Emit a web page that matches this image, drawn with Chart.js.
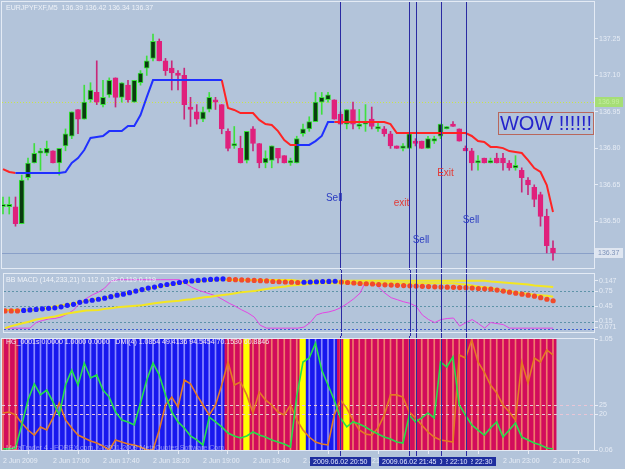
<!DOCTYPE html>
<html>
<head>
<meta charset="utf-8">
<title>EURJPYFXF M5</title>
<script src="https://cdn.jsdelivr.net/npm/chart.js@4.4.1/dist/chart.umd.min.js"></script>
<style>
  html, body { margin:0; padding:0; background:#b3c4da; }
  #wrap { position:relative; width:625px; height:469px; overflow:hidden; background:#b3c4da; }
  #wrap canvas { position:absolute; left:0; display:block; }
</style>
</head>
<body>
<div id="wrap">
  <canvas id="cPrice" width="625" height="270" style="top:0;width:625px;height:270px"></canvas>
  <canvas id="cMacd" width="625" height="66" style="top:270px;width:625px;height:66px"></canvas>
  <canvas id="cDmi" width="625" height="133" style="top:336px;width:625px;height:133px"></canvas>
</div>
<script>
const N = null;
const symbol = 'EURJPYFXF', period = 'M5';

// ---- price bars (M5, 16:20 .. 23:40) ----
const opens = [
 136.56,136.56,136.56,136.49,136.68,136.74,136.78,136.78,136.79,136.74,
 136.81,136.85,136.96,136.92,137.00,137.03,136.98,137.02,137.09,137.01,
 137.06,136.99,137.07,137.13,137.17,137.24,137.16,137.13,137.11,137.10,
 136.97,136.95,136.92,136.96,137.00,136.98,136.87,136.81,136.80,136.75,
 136.88,136.82,136.74,136.75,136.80,136.77,136.74,136.74,136.86,136.88,
 136.91,136.99,137.00,137.00,136.94,136.90,136.96,136.89,136.90,136.92,
 136.88,136.88,136.86,136.81,136.80,136.80,136.83,136.83,136.80,136.83,
 136.85,136.88,136.90,136.88,136.80,136.79,136.74,136.76,136.74,136.76,
 136.76,136.74,136.72,136.71,136.67,136.64,136.61,136.52,136.39];
const highs = [
 136.60,136.60,136.60,136.69,136.76,136.82,136.80,136.83,136.79,136.80,
 136.88,136.95,136.96,137.06,137.07,137.16,137.08,137.09,137.09,137.07,
 137.08,137.08,137.12,137.18,137.27,137.25,137.17,137.16,137.12,137.13,
 137.01,136.98,136.97,137.03,137.01,136.98,136.88,136.89,136.85,136.87,
 136.89,136.82,136.79,136.81,136.80,136.77,136.76,136.85,136.90,136.93,
 137.03,137.03,137.03,137.00,136.95,136.96,136.99,136.96,136.98,136.97,
 136.91,136.89,136.87,136.81,136.82,136.86,136.84,136.83,136.85,136.85,
 136.90,136.89,136.91,136.88,136.81,136.80,136.77,136.76,136.76,136.78,
 136.78,136.75,136.77,136.72,136.68,136.65,136.62,136.55,136.42];
const lows = [
 136.53,136.53,136.48,136.49,136.67,136.74,136.71,136.77,136.74,136.69,
 136.79,136.84,136.86,136.92,136.99,136.98,136.97,137.01,136.97,136.99,
 136.99,136.99,137.06,137.10,137.16,137.16,137.10,137.04,137.04,136.92,
 136.89,136.90,136.91,136.95,136.96,136.86,136.79,136.80,136.74,136.74,
 136.79,136.72,136.72,136.72,136.74,136.74,136.73,136.74,136.85,136.87,
 136.91,136.94,136.99,136.92,136.90,136.88,136.88,136.88,136.87,136.88,
 136.87,136.85,136.80,136.80,136.79,136.80,136.81,136.80,136.80,136.82,
 136.84,136.88,136.89,136.83,136.79,136.71,136.71,136.74,136.74,136.74,
 136.71,136.71,136.71,136.62,136.61,136.56,136.48,136.37,136.34];
const closes = [
 136.57,136.57,136.49,136.67,136.74,136.78,136.79,136.80,136.74,136.80,
 136.86,136.95,136.92,136.99,137.04,136.99,137.01,137.08,137.01,137.07,
 137.00,137.08,137.11,137.16,137.24,137.16,137.12,137.11,137.10,136.98,
 136.96,136.92,136.95,137.01,136.99,136.88,136.80,136.82,136.74,136.87,
 136.82,136.74,136.76,136.81,136.76,136.74,136.75,136.84,136.88,136.91,
 136.99,137.01,137.02,136.92,136.90,136.96,136.90,136.90,136.91,136.89,
 136.89,136.86,136.81,136.80,136.81,136.86,136.82,136.80,136.84,136.84,
 136.90,136.89,136.89,136.83,136.79,136.74,136.75,136.74,136.75,136.74,
 136.74,136.72,136.73,136.68,136.65,136.59,136.52,136.40,136.37];

// ---- trailing stop line (blue = up, red = down) ----
const trailUp = [
 N,N,136.699,136.699,136.699,136.699,136.699,136.699,136.699,136.699,
 136.703,136.740,136.760,136.793,136.843,136.847,136.851,136.871,136.871,136.871,
 136.892,136.892,136.937,137.011,137.081,137.081,137.081,137.081,137.081,137.081,
 137.081,137.081,137.081,137.081,137.081,137.081,N,N,N,N,
 N,N,N,N,N,N,N,136.814,136.814,136.814,
 136.830,136.851,136.908,136.908,N,N,N,N,N,N,
 N,N,N,N,N,N,N,N,N,N,
 N,N,N,N,N,N,N,N,N,N,
 N,N,N,N,N,N,N,N,N];
const trailDn = [
 136.715,136.703,136.699,N,N,N,N,N,N,N,
 N,N,N,N,N,N,N,N,N,N,
 N,N,N,N,N,N,N,N,N,N,
 N,N,N,N,N,137.081,136.966,136.958,136.945,136.945,
 136.945,136.917,136.900,136.896,136.871,136.834,136.814,136.814,N,N,
 N,N,N,136.908,136.908,136.908,136.908,136.908,136.908,136.908,
 136.908,136.908,136.900,136.863,136.863,136.863,136.863,136.863,136.863,136.863,
 136.863,136.863,136.863,136.863,136.863,136.851,136.830,136.826,136.806,136.806,
 136.801,136.789,136.785,136.781,136.752,136.719,136.703,136.649,136.538];

// ---- BB MACD pane ----
const bbMacd = [
 0.36,0.36,0.36,0.37,0.38,0.39,0.40,0.41,0.42,0.44,
 0.47,0.49,0.53,0.55,0.57,0.59,0.61,0.64,0.67,0.69,
 0.72,0.75,0.78,0.81,0.83,0.86,0.88,0.90,0.92,0.94,
 0.95,0.96,0.97,0.98,0.985,0.99,0.98,0.975,0.97,0.965,
 0.96,0.955,0.95,0.94,0.935,0.93,0.925,0.92,0.925,0.93,
 0.935,0.94,0.942,0.945,0.93,0.92,0.91,0.90,0.895,0.89,
 0.88,0.875,0.87,0.865,0.86,0.855,0.85,0.845,0.84,0.835,
 0.83,0.828,0.825,0.82,0.818,0.81,0.80,0.795,0.79,0.77,
 0.75,0.73,0.71,0.69,0.67,0.65,0.62,0.59,0.56];
const bandUpper = [
 0.38,0.38,0.38,0.38,0.38,0.38,0.40,0.42,0.45,0.47,
 0.49,0.51,0.53,0.56,0.58,0.60,0.62,0.65,0.68,0.69,
 0.72,0.75,0.77,0.80,0.82,0.84,0.86,0.88,0.90,0.92,
 0.93,0.94,0.95,0.96,0.97,0.97,0.97,0.97,0.97,0.97,
 0.97,0.97,0.97,0.97,0.97,0.97,0.97,0.955,0.955,0.955,
 0.955,0.955,0.955,0.955,0.955,0.955,0.955,0.955,0.955,0.955,
 0.955,0.955,0.955,0.955,0.955,0.955,0.955,0.955,0.955,0.955,
 0.955,0.955,0.955,0.955,0.955,0.955,0.955,0.955,0.94,0.93,
 0.92,0.91,0.90,0.89,0.88,0.86,0.85,0.84,0.83];
const bandLower = [
 0.02,0.06,0.09,0.12,0.15,0.19,0.21,0.23,0.25,0.28,
 0.31,0.33,0.35,0.37,0.375,0.38,0.40,0.41,0.43,0.44,
 0.45,0.46,0.47,0.49,0.51,0.525,0.54,0.55,0.56,0.58,
 0.59,0.61,0.63,0.64,0.66,0.675,0.69,0.71,0.73,0.74,
 0.75,0.77,0.79,0.81,0.825,0.84,0.86,0.87,0.88,0.89,
 0.90,0.905,0.905,0.905,0.905,0.905,0.905,0.905,0.905,0.905,
 0.905,0.905,0.905,0.905,0.905,0.905,0.905,0.905,0.905,0.905,
 0.905,0.905,0.905,0.89,0.88,0.86,0.84,0.825,0.81,0.79,
 0.77,0.75,0.73,0.71,0.70,0.68,0.67,0.66,0.64];
const stochLine = [
 0.02,0.02,0.02,0.02,0.02,0.13,0.17,0.20,0.21,0.24,
 0.30,0.375,0.51,0.60,0.675,0.73,0.81,0.94,0.975,0.975,
 0.975,0.975,0.975,0.975,0.975,0.975,0.975,0.975,0.975,0.90,
 0.825,0.77,0.73,0.69,0.65,0.58,0.51,0.45,0.38,0.32,
 0.24,0.075,0.02,0.02,0.02,0.02,0.02,0.02,0.04,0.13,
 0.28,0.32,0.34,0.375,0.43,0.51,0.60,0.71,0.96,0.94,
 0.825,0.71,0.62,0.58,0.54,0.51,0.45,0.28,0.19,0.13,
 0.19,0.21,0.22,0.06,0.13,0.19,0.11,0.02,0.13,0.11,
 0.09,0.02,0.02,0.02,0.02,0.02,0.02,0.02,0.02];

// ---- HG / DMI pane ----
const hgState = ('RRR' + 'BBBBBBBBBBBBBBBBBBBBBBBBBBBBBBBBB' + 'RRR' + 'Y' + 'RRRRRRRR' + 'Y' +
                 'BBBBB' + 'R' + 'Y' + 'RRRRRRRRRRRRRRRRRRRRRRRRRRRRRRRRR').split('');
const hgLevel = 1;
const dmiPlus = [
 0.6,0.6,1.1,13.9,27.8,36.7,30.6,33.3,26.7,19.4,
 36.1,44.4,36.1,48.3,40.0,41.7,33.3,29.4,21.1,16.7,
 15.6,13.9,26.1,38.9,48.3,41.7,30.6,21.1,15.6,12.2,
 7.8,5.6,2.8,18.3,15.6,12.8,9.4,7.8,6.7,7.8,
 10.0,8.3,7.2,5.6,4.4,3.3,1.7,30.0,48.9,51.1,
 59.4,44.4,36.1,27.8,17.8,12.8,15.6,14.4,12.8,10.6,
 8.9,7.2,6.1,4.4,3.9,19.4,15.6,17.8,20.6,17.8,
 48.9,46.1,51.7,25.0,19.4,13.9,11.1,8.3,12.2,15.6,
 7.2,11.1,15.0,7.2,5.6,3.9,2.8,1.1,0.6];
const dmiMinus = [
 20.6,21.1,19.4,15.0,11.1,8.3,12.8,11.1,17.8,26.1,
 16.7,12.2,8.3,6.7,5.0,3.9,2.2,0.0,5.6,4.4,
 3.3,2.8,1.7,0.0,0.0,11.1,25.0,29.4,23.9,38.9,
 36.7,30.6,25.0,19.4,25.0,36.1,48.9,36.1,37.8,30.6,
 20.6,32.2,27.8,25.0,21.1,19.4,25.0,16.7,11.1,7.2,
 4.4,3.3,2.8,19.4,27.8,23.3,16.7,11.1,8.9,8.3,
 12.2,19.4,30.6,30.6,29.4,21.1,17.8,13.9,10.0,7.2,
 5.6,5.0,4.4,52.8,51.1,61.1,48.9,43.3,36.1,31.7,
 25.0,21.1,16.7,48.9,37.2,51.1,48.9,55.6,52.8];

// ---- axes, levels, annotations ----
const priceTicks = [136.50, 136.65, 136.80, 136.95, 137.10, 137.25];
const macdTickVals = [0.956, 0.75, 0.45, 0.15, 0.037];
const macdTickLabels = ['0.147', '0.75', '0.45', '0.15', '0.071'];
const macdLevels = [0.75, 0.45, 0.15, 0.0];
const dmiTickVals = [61.67, 25, 20, 0];
const dmiTickLabels = ['1.05', '25', '20', '0.06'];
const dmiLevels = [25, 20];
const timeTickBars = [0, 8, 16, 24, 32, 40, 48, 56, 64, 72, 80, 88];
const timeTickLabels = ['2 Jun 2009','2 Jun 17:00','2 Jun 17:40','2 Jun 18:20','2 Jun 19:00','2 Jun 19:40',
                        '2 Jun 20:20','2 Jun 21:00','2 Jun 21:40','2 Jun 22:20','2 Jun 23:00','2 Jun 23:40'];
const signalBars = [54, 65, 66, 70, 74];
const signalLabels = ['2009.06.02 20:50','2009.06.02 21:45','2009.06.02 21:50','2009.06.02 22:10','2009.06.02 22:30'];
const askPrice = 136.99;
const notes = [
  { text:'Sell', bar:53.0,  price:136.596, color:'#2b3cc2' },
  { text:'exit', bar:63.76, price:136.575, color:'#e23a36' },
  { text:'Exit', bar:70.8,  price:136.699, color:'#e23a36' },
  { text:'Sell', bar:66.88, price:136.423, color:'#2b3cc2' },
  { text:'Sell', bar:74.88, price:136.505, color:'#2b3cc2' }
];
const wow = { text:'WOW !!!!!!', bar:79.5, price:136.876 };
const macdHeader = 'BB MACD (144,233,21) 0.112 0.132 0.119 0.119';
const dmiHeader = 'HG_0001s 0.0000 1.0000 0.0000   DMI(4) 1.0854 49.4136 94.5454 70.1530 60.8846';
const copyright = 'MetaTrader 4 - FOREX.com, \u00A9 2001-2009 MetaQuotes Software Corp.';

// ---- styling helpers ----
const FONT = 'Liberation Sans';
const AXIS_COL = '#e6ecf5';
const X_MIN = -0.16, X_MAX = 94.56;
Chart.defaults.font.family = FONT;
Chart.defaults.animation = false;

const xi = opens.map((_, i) => i);
const bull = closes.map((c, i) => c >= opens[i]);
const pts = arr => xi.map(i => ({ x:i, y:arr[i] }));

function xAxisHidden() { return { type:'linear', min:X_MIN, max:X_MAX, offset:false, display:false }; }
function rightAxis(min, max, vals, labels) {
  return {
    position:'right', min, max,
    afterBuildTicks: s => { s.ticks = vals.map(v => ({ value:v })); },
    afterFit: s => { s.width = 31; s.paddingTop = 0; s.paddingBottom = 0; },
    ticks: { autoSkip:false, padding:1, color:AXIS_COL, font:{ family:FONT, size:7 },
             callback: v => labels[vals.indexOf(v)] },
    grid: { drawOnChartArea:false, drawTicks:true, tickLength:4, color:AXIS_COL },
    border: { display:true, color:AXIS_COL }
  };
}
function drawSignalLines(chart, top, bottom) {
  const { ctx, scales:{ x } } = chart;
  ctx.save(); ctx.strokeStyle = '#2a2aa2'; ctx.lineWidth = 1;
  signalBars.forEach(b => {
    const px = Math.round(x.getPixelForValue(b)) + 0.5;
    ctx.beginPath(); ctx.moveTo(px, top); ctx.lineTo(px, bottom); ctx.stroke();
  });
  ctx.restore();
}
function frame(chart) {
  const { ctx, chartArea:a } = chart;
  ctx.save(); ctx.strokeStyle = '#e4ebf5'; ctx.lineWidth = 1;
  ctx.strokeRect(a.left - 0.5, a.top - 0.5, a.right - a.left + 1, a.bottom - a.top + 1);
  ctx.restore();
}
function text(ctx, t, x, y, color, size, align) {
  ctx.save(); ctx.font = size + 'px "' + FONT + '"'; ctx.fillStyle = color;
  ctx.textAlign = align || 'left'; ctx.textBaseline = 'middle'; ctx.fillText(t, x, y); ctx.restore();
}
const commonOpts = (padding) => ({
  responsive:false, maintainAspectRatio:false, devicePixelRatio:1, animation:false,
  layout:{ padding }, events:[],
  plugins:{ legend:{ display:false }, tooltip:{ enabled:false } }
});

// ---- price pane ----
const pricePlugin = {
  id:'pricePane',
  beforeDatasetsDraw(chart) {
    const { ctx, chartArea:a, scales:{ y } } = chart;
    ctx.save();
    let py = Math.round(y.getPixelForValue(askPrice)) + 0.5;
    ctx.strokeStyle = '#c9e64a'; ctx.setLineDash([1, 2]);
    ctx.beginPath(); ctx.moveTo(a.left, py); ctx.lineTo(a.right, py); ctx.stroke();
    ctx.setLineDash([]);
    py = Math.round(y.getPixelForValue(closes[closes.length - 1])) + 0.5;
    ctx.strokeStyle = '#8aa0c8';
    ctx.beginPath(); ctx.moveTo(a.left, py); ctx.lineTo(a.right, py); ctx.stroke();
    ctx.restore();
  },
  afterDatasetsDraw(chart) {
    const { ctx, chartArea:a, scales:{ x, y } } = chart;
    drawSignalLines(chart, a.top, chart.height);
    notes.forEach(n => text(ctx, n.text, x.getPixelForValue(n.bar), y.getPixelForValue(n.price), n.color, 10, 'center'));
    ctx.save();
    ctx.font = '20px "' + FONT + '"'; ctx.textAlign = 'left'; ctx.textBaseline = 'alphabetic';
    const wx = x.getPixelForValue(wow.bar), wy = y.getPixelForValue(wow.price);
    const w = ctx.measureText(wow.text).width;
    ctx.fillStyle = '#2323cc'; ctx.fillText(wow.text, wx, wy);
    ctx.strokeStyle = '#b8675c'; ctx.lineWidth = 1;
    ctx.strokeRect(Math.round(wx) - 1.5, Math.round(wy) - 17.5, Math.round(w) + 3, 22);
    ctx.restore();
  },
  afterDraw(chart) {
    const { ctx, scales:{ y } } = chart;
    frame(chart);
    const L = opens.length - 1;
    text(ctx, symbol + ',' + period + '  ' + [opens[L], highs[L], lows[L], closes[L]].map(v => v.toFixed(2)).join(' '),
         6, 8, '#eef2f8', 7);
    let ry = Math.round(y.getPixelForValue(askPrice));
    ctx.fillStyle = '#a6de76'; ctx.fillRect(595, ry - 5, 28, 10);
    text(ctx, askPrice.toFixed(2), 598, ry, '#c4eea0', 7);
    ry = Math.round(y.getPixelForValue(closes[L]));
    ctx.fillStyle = '#dfe6f1'; ctx.fillRect(595, ry - 5, 28, 10);
    text(ctx, closes[L].toFixed(2), 598, ry, '#7d92b8', 7);
  }
};

new Chart(document.getElementById('cPrice'), {
  type:'bar',
  data:{ datasets:[
    { type:'line', label:'Trail up', data:pts(trailUp), borderColor:'#2030ff', borderWidth:2, pointRadius:0, order:0 },
    { type:'line', label:'Trail down', data:pts(trailDn), borderColor:'#ff2424', borderWidth:2, pointRadius:0, order:0 },
    { label:'Body', data:xi.map(i => ({ x:i, y:[opens[i], closes[i]] })),
      backgroundColor: bull.map(b => b ? '#0b3a10' : '#e0207c'),
      borderColor: bull.map(b => b ? '#36e236' : '#e0207c'),
      borderWidth:1, borderSkipped:false, barThickness:5, minBarLength:2, grouped:false, order:1 },
    { label:'Wick', data:xi.map(i => ({ x:i, y:[lows[i], highs[i]] })),
      backgroundColor: bull.map(b => b ? '#3ee03e' : '#c8287a'),
      barThickness:1, grouped:false, order:2 }
  ]},
  options: Object.assign(commonOpts({ top:2, bottom:2, left:2, right:0 }), {
    scales:{ x:xAxisHidden(), y:rightAxis(136.308, 137.402, priceTicks, priceTicks.map(v => v.toFixed(2))) }
  }),
  plugins:[pricePlugin]
});

// ---- BB MACD pane ----
const macdPlugin = {
  id:'macdPane',
  beforeDatasetsDraw(chart) {
    const { ctx, chartArea:a, scales:{ y } } = chart;
    ctx.save(); ctx.setLineDash([2, 2]); ctx.lineWidth = 1;
    macdLevels.forEach((lv, k) => {
      const py = Math.round(y.getPixelForValue(lv)) + 0.5;
      ctx.strokeStyle = k === macdLevels.length - 1 ? '#3f5fd0' : '#5e93a8';
      ctx.beginPath(); ctx.moveTo(a.left, py); ctx.lineTo(a.right, py); ctx.stroke();
    });
    ctx.restore();
  },
  afterDatasetsDraw(chart) { drawSignalLines(chart, 0, chart.height); },
  afterDraw(chart) {
    frame(chart);
    text(chart.ctx, macdHeader, 6, 10, '#eef2f8', 7);
  }
};

new Chart(document.getElementById('cMacd'), {
  type:'line',
  data:{ datasets:[
    { label:'BB MACD', data:pts(bbMacd), showLine:false, pointRadius:2.6, pointBorderWidth:0,
      pointBackgroundColor: bbMacd.map((v, i) => i > 0 && v > bbMacd[i - 1] ? '#1d1dff' : '#f24a2a'), order:0 },
    { label:'Upper band', data:pts(bandUpper), borderColor:'#f4e620', borderWidth:2, pointRadius:0, order:1 },
    { label:'Lower band', data:pts(bandLower), borderColor:'#f4e620', borderWidth:2, pointRadius:0, order:1 },
    { label:'Line', data:pts(stochLine), borderColor:'#e444e4', borderWidth:1, pointRadius:0, order:2 }
  ]},
  options: Object.assign(commonOpts({ top:1, bottom:4, left:2, right:0 }), {
    scales:{ x:xAxisHidden(), y:rightAxis(-0.056, 1.0875, macdTickVals, macdTickLabels) }
  }),
  plugins:[macdPlugin]
});

// ---- HG / DMI pane ----
const hgColor = { R:'#d20c5c', B:'#1818ee', Y:'#ffff00' };
const sepColor = { R:'#f07a6a', B:'#8a8aff', Y:'rgba(0,0,0,0)' };
const dmiPlugin = {
  id:'dmiPane',
  afterDatasetDraw(chart, args) {
    if (chart.data.datasets[args.index].label !== 'HG grid') return;
    const { ctx, chartArea:a, scales:{ y } } = chart;
    ctx.save(); ctx.setLineDash([3, 3]); ctx.strokeStyle = '#e8c6d6'; ctx.lineWidth = 1;
    dmiLevels.forEach(lv => {
      const py = Math.round(y.getPixelForValue(lv)) + 0.5;
      ctx.beginPath(); ctx.moveTo(a.left, py); ctx.lineTo(a.right, py); ctx.stroke();
    });
    ctx.restore();
  },
  afterDatasetsDraw(chart) {
    const { ctx, chartArea:a } = chart;
    drawSignalLines(chart, 0, a.bottom + 6);
    text(ctx, dmiHeader, 6, 6.5, '#f2e4f0', 7);
    text(ctx, copyright, 6, 112, 'rgba(236,236,246,0.5)', 7);
  },
  afterDraw(chart) {
    const { ctx, scales:{ x } } = chart;
    frame(chart);
    ctx.save();
    ctx.font = '7px "' + FONT + '"';
    for (let k = signalBars.length - 1; k >= 0; k--) {
      const px = x.getPixelForValue(signalBars[k]);
      const t = signalLabels[k];
      const w = Math.ceil(ctx.measureText(t).width) + 6;
      const bx = Math.round(px - w / 2);
      ctx.fillStyle = '#1f2e9e'; ctx.fillRect(bx, 121, w, 9);
      ctx.fillStyle = '#e2e8ff'; ctx.textAlign = 'left'; ctx.textBaseline = 'middle';
      ctx.fillText(t, bx + 3, 125.7);
    }
    ctx.restore();
  }
};

new Chart(document.getElementById('cDmi'), {
  type:'bar',
  data:{ datasets:[
    { type:'line', label:'+DI', data:pts(dmiPlus), borderColor:'#25e04a', borderWidth:1.6, pointRadius:0, yAxisID:'y', order:0 },
    { type:'line', label:'-DI', data:pts(dmiMinus), borderColor:'#e47a24', borderWidth:1.6, pointRadius:0, yAxisID:'y', order:1 },
    { label:'HG grid', data:xi.map(i => ({ x:i, y:[0, hgLevel] })), yAxisID:'yHg', barThickness:1,
      backgroundColor: hgState.map(s => sepColor[s]), grouped:false, order:2 },
    { label:'HG', data:xi.map(i => ({ x:i, y:[0, hgLevel] })), yAxisID:'yHg', barPercentage:1, categoryPercentage:1,
      backgroundColor: hgState.map(s => hgColor[s]), borderWidth:0, grouped:false, order:3 }
  ]},
  options: Object.assign(commonOpts({ top:3, bottom:0, left:2, right:0 }), {
    scales:{
      x:{ type:'linear', min:X_MIN, max:X_MAX, offset:false, position:'bottom',
          afterBuildTicks: s => { s.ticks = timeTickBars.map(v => ({ value:v })); },
          afterFit: s => { s.height = 19; s.paddingLeft = 0; s.paddingRight = 0; },
          ticks:{ autoSkip:false, maxRotation:0, minRotation:0, align:'start', padding:3, color:AXIS_COL,
                  font:{ family:FONT, size:7 }, callback: v => timeTickLabels[timeTickBars.indexOf(v)] },
          grid:{ drawOnChartArea:false, drawTicks:true, tickLength:4, color:AXIS_COL },
          border:{ display:true, color:AXIS_COL } },
      y: rightAxis(0, 61.67, dmiTickVals, dmiTickLabels),
      yHg:{ display:false, min:0, max:1 }
    }
  }),
  plugins:[dmiPlugin]
});
</script>
</body>
</html>
